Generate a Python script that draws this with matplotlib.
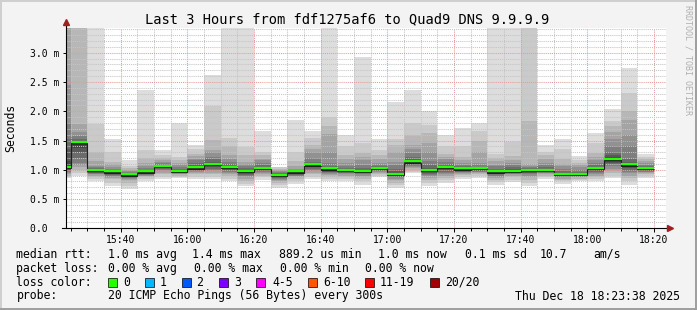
import pandas as pd
import matplotlib
matplotlib.use('Agg')
import matplotlib.pyplot as plt
import matplotlib.dates as mdates
from matplotlib.patches import Rectangle
from matplotlib.lines import Line2D

plt.rcParams['font.family'] = 'DejaVu Sans Mono'

# %% data: 20 sorted pings (ms) per 5 min step, steps end at 15:25 ... 18:20
s00 = [0.86, 0.88, 0.90, 0.92, 0.95, 0.97, 0.99, 1.00, 1.01, 1.02, 1.04, 1.15, 1.35, 1.52, 1.80, 2.45, 4.0, 4.0, 4.0, 4.0]
s01 = [0.90, 0.95, 1.00, 1.05, 1.08, 1.12, 1.20, 1.30, 1.38, 1.43, 1.46, 1.48, 1.50, 1.52, 1.58, 1.65, 1.79, 4.0, 4.0, 4.0]
s02 = [0.80, 0.84, 0.88, 0.90, 0.92, 0.93, 0.94, 0.95, 0.96, 0.97, 0.99, 1.00, 1.01, 1.03, 1.05, 1.07, 1.15, 1.31, 1.79, 4.0]
s03 = [0.72, 0.78, 0.84, 0.86, 0.88, 0.90, 0.91, 0.92, 0.93, 0.94, 0.96, 0.97, 0.98, 1.00, 1.02, 1.05, 1.10, 1.13, 1.30, 1.52]
s04 = [0.67, 0.72, 0.78, 0.82, 0.84, 0.86, 0.87, 0.88, 0.89, 0.895, 0.905, 0.91, 0.92, 0.94, 0.96, 0.98, 1.00, 1.03, 1.06, 1.16]
s05 = [0.80, 0.84, 0.87, 0.89, 0.90, 0.91, 0.92, 0.93, 0.94, 0.945, 0.955, 0.97, 0.99, 1.00, 1.03, 1.07, 1.11, 1.20, 1.34, 2.36]
s06 = [0.85, 0.88, 0.92, 0.95, 0.98, 1.00, 1.02, 1.03, 1.04, 1.05, 1.07, 1.08, 1.09, 1.10, 1.12, 1.13, 1.16, 1.20, 1.25, 1.34]
s07 = [0.86, 0.88, 0.90, 0.92, 0.93, 0.94, 0.945, 0.95, 0.955, 0.96, 0.97, 0.98, 1.00, 1.02, 1.05, 1.08, 1.11, 1.16, 1.22, 1.80]
s08 = [0.84, 0.88, 0.92, 0.95, 0.97, 0.98, 0.99, 1.00, 1.01, 1.02, 1.04, 1.06, 1.08, 1.12, 1.16, 1.19, 1.24, 1.27, 1.35, 1.42]
s09 = [0.84, 0.88, 0.92, 0.95, 0.98, 1.00, 1.02, 1.04, 1.06, 1.07, 1.09, 1.10, 1.13, 1.18, 1.22, 1.30, 1.34, 1.51, 2.09, 2.62]
s10 = [0.80, 0.85, 0.90, 0.93, 0.95, 0.97, 0.99, 1.00, 1.01, 1.02, 1.04, 1.05, 1.07, 1.10, 1.13, 1.18, 1.25, 1.40, 1.55, 4.0]
s11 = [0.72, 0.76, 0.80, 0.84, 0.87, 0.89, 0.91, 0.93, 0.94, 0.95, 0.97, 0.98, 1.00, 1.03, 1.06, 1.10, 1.13, 1.25, 1.39, 4.0]
s12 = [0.83, 0.87, 0.90, 0.93, 0.95, 0.97, 0.98, 0.99, 1.00, 1.005, 1.015, 1.03, 1.05, 1.08, 1.12, 1.16, 1.19, 1.25, 1.30, 1.66]
s13 = [0.69, 0.74, 0.78, 0.80, 0.82, 0.84, 0.86, 0.87, 0.88, 0.89, 0.90, 0.91, 0.92, 0.94, 0.96, 0.98, 1.00, 1.02, 1.04, 1.05]
s14 = [0.75, 0.80, 0.84, 0.87, 0.89, 0.90, 0.91, 0.92, 0.93, 0.94, 0.96, 0.97, 0.98, 0.99, 1.00, 1.02, 1.06, 1.15, 1.30, 1.85]
s15 = [0.85, 0.88, 0.92, 0.95, 0.98, 1.00, 1.02, 1.04, 1.05, 1.06, 1.08, 1.09, 1.11, 1.14, 1.20, 1.30, 1.36, 1.43, 1.55, 1.66]
s16 = [0.80, 0.85, 0.88, 0.91, 0.93, 0.95, 0.96, 0.97, 0.98, 0.99, 1.01, 1.02, 1.04, 1.07, 1.11, 1.30, 1.61, 1.75, 1.91, 4.0]
s17 = [0.80, 0.84, 0.88, 0.90, 0.92, 0.94, 0.95, 0.96, 0.97, 0.975, 0.985, 0.99, 1.00, 1.03, 1.06, 1.11, 1.18, 1.25, 1.40, 1.60]
s18 = [0.74, 0.80, 0.84, 0.87, 0.90, 0.92, 0.94, 0.95, 0.96, 0.97, 0.98, 0.99, 1.00, 1.03, 1.08, 1.16, 1.22, 1.29, 1.45, 2.92]
s19 = [0.87, 0.90, 0.93, 0.95, 0.97, 0.98, 0.99, 1.00, 1.005, 1.01, 1.015, 1.02, 1.04, 1.06, 1.08, 1.12, 1.18, 1.26, 1.34, 1.52]
s20 = [0.69, 0.74, 0.78, 0.82, 0.85, 0.87, 0.88, 0.89, 0.90, 0.91, 0.93, 0.95, 0.98, 1.02, 1.08, 1.14, 1.30, 1.42, 1.53, 2.15]
s21 = [0.94, 0.97, 1.00, 1.03, 1.05, 1.07, 1.08, 1.09, 1.10, 1.11, 1.13, 1.15, 1.18, 1.22, 1.28, 1.35, 1.43, 1.60, 1.80, 2.36]
s22 = [0.73, 0.78, 0.82, 0.86, 0.89, 0.91, 0.93, 0.95, 0.96, 0.97, 0.99, 1.00, 1.03, 1.08, 1.15, 1.30, 1.45, 1.62, 1.77, 2.00]
s23 = [0.77, 0.82, 0.86, 0.90, 0.93, 0.95, 0.97, 0.99, 1.01, 1.02, 1.04, 1.05, 1.07, 1.10, 1.14, 1.18, 1.22, 1.27, 1.40, 1.60]
s24 = [0.84, 0.88, 0.91, 0.93, 0.95, 0.96, 0.97, 0.98, 0.99, 0.995, 1.005, 1.01, 1.03, 1.06, 1.09, 1.11, 1.16, 1.22, 1.40, 1.72]
s25 = [0.86, 0.89, 0.92, 0.94, 0.96, 0.97, 0.98, 0.99, 1.00, 1.005, 1.015, 1.02, 1.03, 1.05, 1.08, 1.12, 1.30, 1.50, 1.67, 1.80]
s26 = [0.74, 0.79, 0.83, 0.86, 0.88, 0.90, 0.92, 0.93, 0.94, 0.945, 0.955, 0.97, 0.99, 1.02, 1.06, 1.09, 1.15, 1.20, 1.27, 4.0]
s27 = [0.79, 0.83, 0.87, 0.90, 0.92, 0.93, 0.94, 0.95, 0.96, 0.965, 0.975, 0.99, 1.01, 1.04, 1.08, 1.11, 1.17, 1.24, 1.48, 4.0]
s28 = [0.72, 0.78, 0.83, 0.87, 0.90, 0.92, 0.94, 0.95, 0.96, 0.97, 0.99, 1.00, 1.01, 1.03, 1.05, 1.07, 1.10, 1.83, 4.0, 4.0]
s29 = [0.84, 0.87, 0.90, 0.92, 0.94, 0.95, 0.96, 0.97, 0.98, 0.985, 0.995, 1.00, 1.02, 1.05, 1.08, 1.12, 1.18, 1.25, 1.31, 1.42]
s30 = [0.75, 0.80, 0.83, 0.85, 0.87, 0.88, 0.89, 0.90, 0.905, 0.91, 0.92, 0.93, 0.95, 0.98, 1.02, 1.06, 1.10, 1.19, 1.35, 1.52]
s31 = [0.80, 0.83, 0.85, 0.87, 0.88, 0.89, 0.90, 0.905, 0.91, 0.915, 0.925, 0.93, 0.95, 0.97, 1.00, 1.04, 1.08, 1.11, 1.16, 1.23]
s32 = [0.80, 0.84, 0.87, 0.90, 0.93, 0.95, 0.97, 0.98, 0.99, 1.00, 1.02, 1.03, 1.05, 1.08, 1.12, 1.16, 1.22, 1.29, 1.45, 1.62]
s33 = [0.86, 0.90, 0.94, 0.98, 1.02, 1.06, 1.10, 1.12, 1.14, 1.15, 1.17, 1.22, 1.26, 1.30, 1.40, 1.52, 1.65, 1.75, 1.83, 2.04]
s34 = [0.74, 0.80, 0.86, 0.90, 0.94, 0.97, 1.00, 1.03, 1.05, 1.06, 1.08, 1.10, 1.13, 1.19, 1.40, 1.60, 1.85, 2.00, 2.31, 2.74]
s35 = [0.86, 0.89, 0.92, 0.94, 0.96, 0.97, 0.98, 0.99, 1.00, 1.005, 1.015, 1.02, 1.04, 1.06, 1.08, 1.12, 1.15, 1.18, 1.22, 1.27]

median = [1.03, 1.45, 0.98, 0.95, 0.90, 0.95, 1.05, 0.965, 1.02, 1.08, 1.03, 0.965, 1.01, 0.89, 0.95, 1.07,
          1.00, 0.98, 0.965, 1.01, 0.91, 1.12, 0.98, 1.03, 1.00, 1.01, 0.95, 0.965, 0.98, 0.98, 0.91, 0.91,
          1.01, 1.16, 1.07, 1.01]

smoke = [s00, s01, s02, s03, s04, s05, s06, s07, s08, s09, s10, s11, s12, s13, s14, s15, s16, s17,
         s18, s19, s20, s21, s22, s23, s24, s25, s26, s27, s28, s29, s30, s31, s32, s33, s34, s35]

ends = pd.date_range('2025-12-18 15:25', '2025-12-18 18:20', freq='5min')
starts = ends - pd.Timedelta(minutes=5)
t0 = pd.Timestamp('2025-12-18 15:23:38')
t1 = pd.Timestamp('2025-12-18 18:23:38')

ytick_vals = [0.0, 0.5, 1.0, 1.5, 2.0, 2.5, 3.0]
ytick_text = ['0.0  ', '0.5 m', '1.0 m', '1.5 m', '2.0 m', '2.5 m', '3.0 m']

loss_names = ['0', '1', '2', '3', '4-5', '6-10', '11-19', '20/20']
loss_colors = ['#26ff00', '#00b8ff', '#0059ff', '#7e00ff', '#ff00ff', '#ff5500', '#ff0000', '#a10000']
loss_box_x = [108, 145, 182, 219, 256, 308, 365, 430]
loss_text_x = [123, 160, 196, 234, 272, 323, 380, 445]

W, H = 697, 310
def fx(px):
    return px / W
def fy(py):
    return 1 - py / H

# %%
fig = plt.figure(figsize=(W / 100, H / 100), dpi=100, facecolor='#f3f3f3')
ax = fig.add_axes([fx(66), fy(228.3), 600 / W, 200 / H])
ax.set_facecolor('white')

x0 = mdates.date2num(starts)
x1 = mdates.date2num(ends)
width = x1 - x0

# smoke bands, outer (light) to inner (dark)
for ib in range(1, 11):
    lo = [s[ib - 1] for s in smoke]
    hi = [s[20 - ib] for s in smoke]
    g = int(190 / 10 * (10 - ib)) + 50
    col = '#%02x%02x%02x' % (g, g, g)
    ax.bar(x0, [h - l for h, l in zip(hi, lo)], bottom=lo, width=width, align='edge',
           color=col, linewidth=0, zorder=1)

edges = list(x0) + [x1[-1]]
ax.stairs(median, edges, baseline=None, color='#202020', lw=0.8, zorder=3)
ax.hlines([m + 0.022 for m in median], x0, x1, color='#26ff00', lw=1.6, zorder=4)

ax.set_xlim(mdates.date2num(t0), mdates.date2num(t1))
ax.set_ylim(0, 3.417)

ax.xaxis.set_major_locator(mdates.MinuteLocator(byminute=[0, 20, 40]))
ax.xaxis.set_minor_locator(mdates.MinuteLocator(byminute=range(0, 60, 5)))
ax.xaxis.set_major_formatter(mdates.DateFormatter('%H:%M'))
ax.set_yticks(ytick_vals)
ax.set_yticklabels(ytick_text)
ax.set_yticks([i / 10 for i in range(35)], minor=True)

ax.grid(which='minor', color='#c4c4c4', lw=0.75, linestyle=(0, (1, 1)))
ax.grid(which='major', color='#e89a9a', lw=0.75, linestyle=(0, (1, 1)))
ax.set_axisbelow(False)

ax.tick_params(axis='x', which='major', length=3, width=0.7, pad=2, labelsize=7)
ax.tick_params(axis='x', which='minor', length=2, width=0.7)
ax.tick_params(axis='y', which='major', length=2, width=0.7, pad=24, labelsize=7)
ax.tick_params(axis='y', which='minor', length=0)
for lab in ax.get_yticklabels():
    lab.set_horizontalalignment('left')

for sp in ax.spines.values():
    sp.set_visible(False)
ax.add_line(Line2D([0, 0], [0, 1.03], transform=ax.transAxes, color='black', lw=0.8, clip_on=False, zorder=5))
ax.add_line(Line2D([-0.006, 1.007], [0, 0], transform=ax.transAxes, color='black', lw=0.8, clip_on=False, zorder=5))
ax.plot([0], [1.03], marker='^', ms=4, color='#a02020', transform=ax.transAxes, clip_on=False, zorder=6)
ax.plot([1.007], [0], marker='>', ms=4, color='#a02020', transform=ax.transAxes, clip_on=False, zorder=6)

fig.text(fx(11), fy(127.5), 'Seconds', rotation=90, ha='center', va='center', fontsize=8.3)

fig.text(fx(347.5), fy(19), 'Last 3 Hours from fdf1275af6 to Quad9 DNS 9.9.9.9',
         ha='center', va='center', fontsize=9.9)
fig.text(fx(688), fy(5), 'RRDTOOL / TOBI OETIKER', rotation=270, ha='center', va='top',
         fontsize=6, color='#b0b0b0')

# legend / stats
fs = 8.3
rows = [254.3, 268.3, 282.3, 296]
fig.text(fx(16.4), fy(rows[0]), 'median rtt:', fontsize=fs, va='center')
for x, s in [(107.6, '1.0 ms avg'), (192.4, '1.4 ms max'), (279, '889.2 us min'),
             (378, '1.0 ms now'), (465, '0.1 ms sd'), (540, '10.7'), (593, 'am/s')]:
    fig.text(fx(x), fy(rows[0]), s, fontsize=fs, va='center')
fig.text(fx(16.4), fy(rows[1]), 'packet loss:', fontsize=fs, va='center')
for x, s in [(107.6, '0.00 % avg'), (194.2, '0.00 % max'), (280, '0.00 % min'), (365.3, '0.00 % now')]:
    fig.text(fx(x), fy(rows[1]), s, fontsize=fs, va='center')
fig.text(fx(16.4), fy(rows[2]), 'loss color:', fontsize=fs, va='center')
for bx, tx, name, col in zip(loss_box_x, loss_text_x, loss_names, loss_colors):
    fig.add_artist(Rectangle((fx(bx), fy(rows[2] + 4.5)), 9 / W, 9 / H, transform=fig.transFigure,
                             facecolor=col, edgecolor='black', lw=0.5))
    fig.text(fx(tx), fy(rows[2]), name, fontsize=fs, va='center')
fig.text(fx(16.4), fy(rows[3]), 'probe:', fontsize=fs, va='center')
fig.text(fx(107.6), fy(rows[3]), '20 ICMP Echo Pings (56 Bytes) every 300s', fontsize=fs, va='center')
fig.text(fx(680), fy(rows[3]), 'Thu Dec 18 18:23:38 2025', fontsize=fs, va='center', ha='right')

# frame
fig.add_artist(Line2D([0, 1], [fy(0.5), fy(0.5)], transform=fig.transFigure, color='#cfcfcf', lw=1.4))
fig.add_artist(Line2D([fx(0.5), fx(0.5)], [0, 1], transform=fig.transFigure, color='#cfcfcf', lw=1.4))
fig.add_artist(Line2D([0, 1], [fy(309), fy(309)], transform=fig.transFigure, color='#9e9e9e', lw=1.4))
fig.add_artist(Line2D([fx(696), fx(696)], [0, 1], transform=fig.transFigure, color='#9e9e9e', lw=1.4))

fig.savefig('out.png', dpi=100, facecolor=fig.get_facecolor())
